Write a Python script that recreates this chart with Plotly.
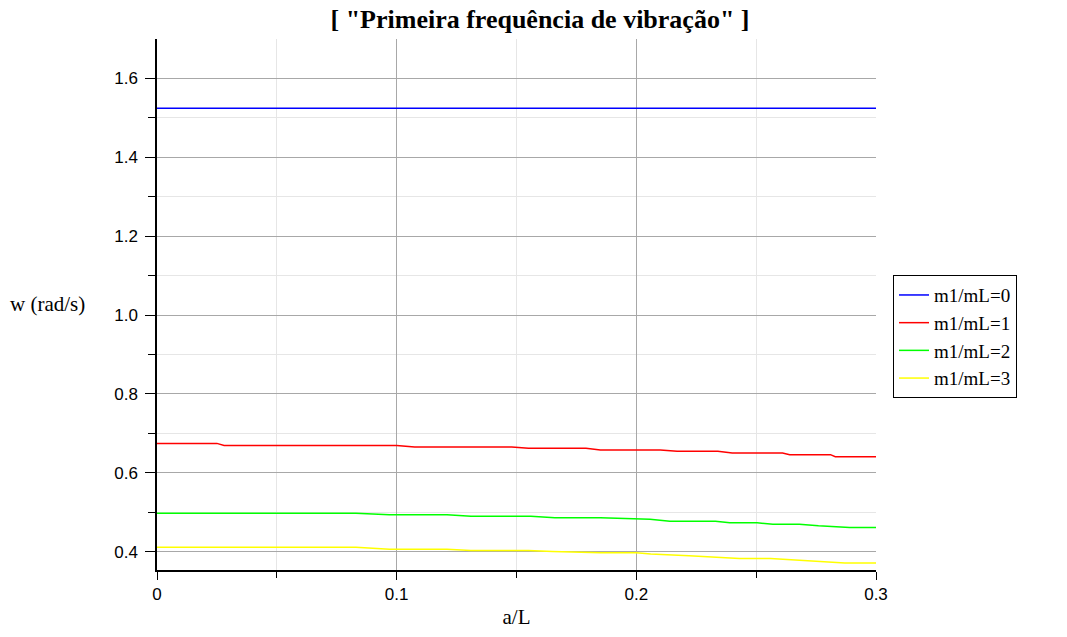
import plotly.graph_objects as go

# a/L sample points and w values
x_blue = [0.0, 0.3]
w_blue = [1.524, 1.524]

x_red = [0.0, 0.025, 0.028, 0.100, 0.1075, 0.148, 0.155, 0.179, 0.185, 0.210, 0.217, 0.234, 0.240, 0.261, 0.264, 0.281, 0.283, 0.300]
w_red = [0.6746, 0.6746, 0.6695, 0.6695, 0.6655, 0.6655, 0.662, 0.662, 0.658, 0.658, 0.6544, 0.6544, 0.6503, 0.6503, 0.646, 0.646, 0.641, 0.641]

x_green = [0.0, 0.083, 0.097, 0.121, 0.131, 0.156, 0.166, 0.185, 0.2057, 0.214, 0.233, 0.239, 0.2504, 0.257, 0.268, 0.276, 0.289, 0.300]
w_green = [0.4976, 0.4976, 0.4936, 0.4936, 0.490, 0.490, 0.486, 0.486, 0.4824, 0.4774, 0.4774, 0.4733, 0.4733, 0.4698, 0.4698, 0.4657, 0.4614, 0.4614]

x_yellow = [0.0, 0.083, 0.097, 0.121, 0.131, 0.155, 0.165, 0.185, 0.200, 0.206, 0.222, 0.235, 0.243, 0.256, 0.270, 0.287, 0.300]
w_yellow = [0.4116, 0.4116, 0.4066, 0.4066, 0.4033, 0.4033, 0.4008, 0.3975, 0.3975, 0.394, 0.390, 0.386, 0.383, 0.383, 0.3772, 0.3712, 0.3712]

series = [
    ("m1/mL=0", x_blue, w_blue, "#0000ff"),
    ("m1/mL=1", x_red, w_red, "#ff0000"),
    ("m1/mL=2", x_green, w_green, "#00ff00"),
    ("m1/mL=3", x_yellow, w_yellow, "#ffff00"),
]

fig = go.Figure()
for name, xs, ys, col in series:
    fig.add_trace(go.Scatter(x=xs, y=ys, mode="lines", name=name,
                             line=dict(color=col, width=1.5)))

serif = "Liberation Serif, Times New Roman, serif"
sans = "Liberation Sans, Arial, sans-serif"

fig.update_layout(
    width=1067, height=637,
    margin=dict(l=157, r=191, t=39, b=65),
    paper_bgcolor="white", plot_bgcolor="white",
    title=dict(text='<b>[ "Primeira frequência de vibração" ]</b>',
               x=540/1067, xanchor="center", y=1 - 19/637, yanchor="middle",
               font=dict(family=serif, size=26, color="black")),
    showlegend=True,
    legend=dict(x=(893-157)/719, y=(572-276)/533, xanchor="left", yanchor="top",
                bordercolor="black", borderwidth=1,
                font=dict(family=serif, size=19, color="black"),
                tracegroupgap=0, itemwidth=30),
    xaxis=dict(range=[0, 0.3], tick0=0, dtick=0.1, showline=True, linecolor="black",
               linewidth=1.5, ticks="outside", ticklen=8, tickcolor="black",
               showgrid=True, gridcolor="#a8a8a8", gridwidth=1, zeroline=False,
               tickfont=dict(family=sans, size=17, color="black"),
               minor=dict(dtick=0.05, tick0=0, ticks="outside", ticklen=6, tickcolor="black",
                          showgrid=True, gridcolor="#e6e6e6"),
               title=dict(text="a/L", font=dict(family=serif, size=21, color="black"), standoff=6)),
    yaxis=dict(range=[0.3537, 1.6996], tick0=0, dtick=0.2, showline=True, linecolor="black",
               linewidth=1.5, ticks="outside", ticklen=10, tickcolor="black",
               showgrid=True, gridcolor="#a8a8a8", gridwidth=1, zeroline=False,
               tickformat=".1f", ticklabelstandoff=4,
               tickfont=dict(family=sans, size=17, color="black"),
               minor=dict(dtick=0.1, tick0=0, ticks="outside", ticklen=7, tickcolor="black",
                          showgrid=True, gridcolor="#e6e6e6")),
    annotations=[dict(text="w (rad/s)", xref="paper", yref="paper",
                      x=-(157-8)/719, y=(572-305)/533, xanchor="left", yanchor="middle",
                      showarrow=False, font=dict(family=serif, size=21, color="black"))],
)

fig.write_html("out.html")
